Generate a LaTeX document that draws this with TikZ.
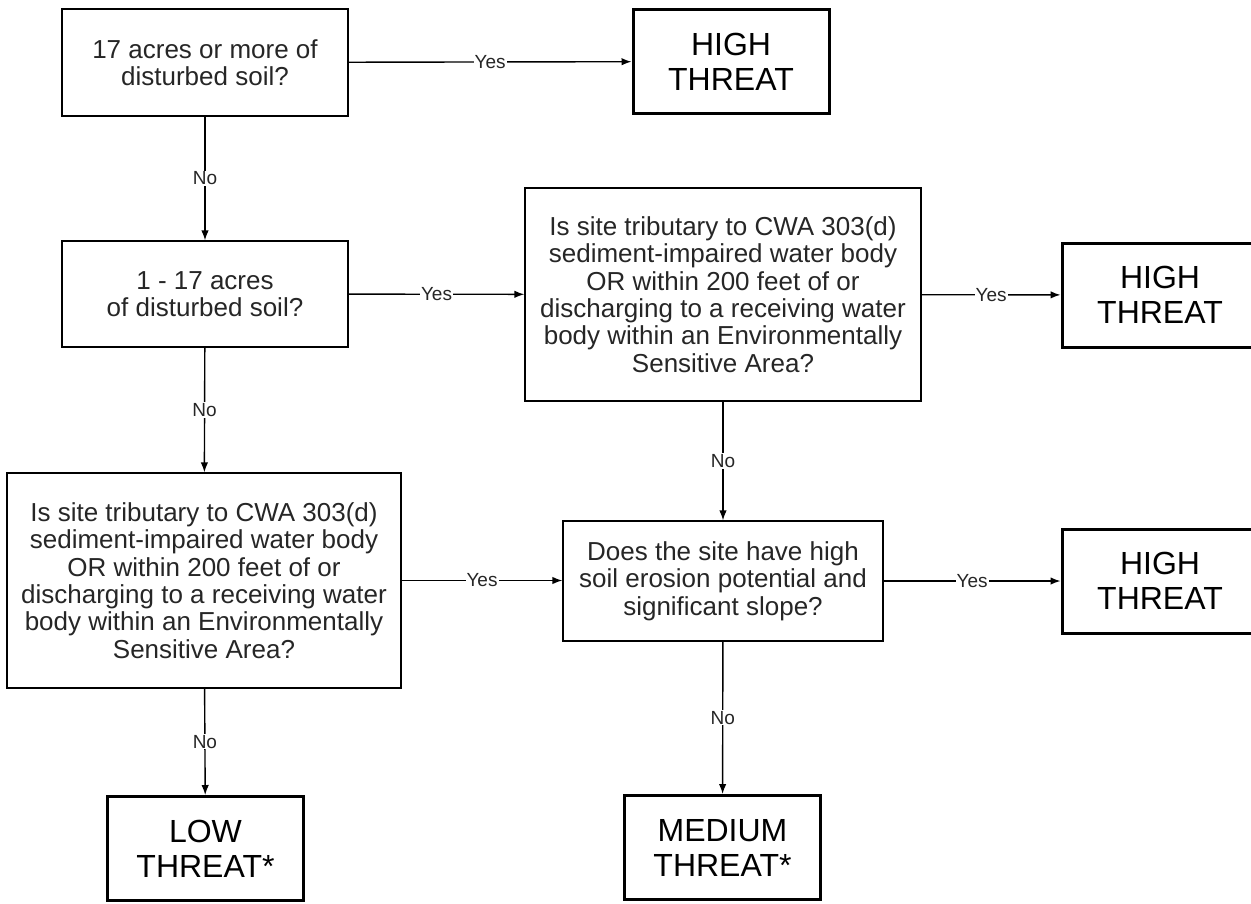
\documentclass[tikz,border=0pt]{standalone}
\usepackage{fontspec}
\setmainfont{Liberation Sans}
\usetikzlibrary{arrows.meta, positioning}

\begin{document}
\begin{tikzpicture} [
    x=1pt, y=-1pt,
    question/.style={rectangle, draw=black, line width=1.3pt, align=center, inner sep=0pt, text=black!85, font=\fontsize{26}{27.3}\selectfont},
    result/.style={rectangle, draw=black, line width=3pt, align=center, inner sep=0pt, minimum width=196pt, minimum height=104pt, font=\fontsize{32}{35}\selectfont},
    arrow/.style={-{Latex[length=10pt, width=7.5pt]}, line width=1.4pt},
    answer/.style={midway, fill=white, inner sep=1pt, text=black!85, font=\fontsize{19}{19}\selectfont}
]
\clip (0,0) rectangle (1251,903);

% Question boxes
\node[question, minimum width=286pt, minimum height=107pt] (acresbig) at (205,62.5) {17 acres or more of\\disturbed soil?};
\node[question, minimum width=286pt, minimum height=106pt] (acressmall) at (205,294) {1 - 17 acres\\of disturbed soil?};
\node[question, minimum width=396pt, minimum height=213pt] (tribright) at (723,294.5) {Is site tributary to CWA 303(d)\\sediment-impaired water body\\OR within 200 feet of or\\discharging to a receiving water\\body within an Environmentally\\Sensitive Area?};
\node[question, minimum width=394pt, minimum height=215pt] (tribleft) at (204,580.5) {Is site tributary to CWA 303(d)\\sediment-impaired water body\\OR within 200 feet of or\\discharging to a receiving water\\body within an Environmentally\\Sensitive Area?};
\node[question, minimum width=320pt, minimum height=120pt] (erosion) at (723,581) {Does the site have high\\soil erosion potential and\\significant slope?};

% Result boxes
\node[result] (hightop) at (731,61.5) {HIGH\\THREAT};
\node[result] (highmid) at (1160,295) {HIGH\\THREAT};
\node[result] (highlow) at (1160,581) {HIGH\\THREAT};
\node[result] (low) at (205.5,848.5) {LOW\\THREAT*};
\node[result] (medium) at (722.5,847.5) {MEDIUM\\THREAT*};

% Connectors
\draw[arrow] (acresbig) -- node[answer] {Yes} (hightop);
\draw[arrow] (acresbig) -- node[answer] {No} (acressmall);
\draw[arrow] (acressmall) -- node[answer] {Yes} (tribright);
\draw[arrow] (acressmall) -- node[answer] {No} (tribleft);
\draw[arrow] (tribright) -- node[answer] {Yes} (highmid);
\draw[arrow] (tribright) -- node[answer] {No} (erosion);
\draw[arrow] (tribleft) -- node[answer] {Yes} (erosion.west |- tribleft.east);
\draw[arrow] (tribleft) -- node[answer] {No} (low);
\draw[arrow] (erosion) -- node[answer] {Yes} (highlow);
\draw[arrow] (erosion) -- node[answer] {No} (medium);

\end{tikzpicture}
\end{document}
